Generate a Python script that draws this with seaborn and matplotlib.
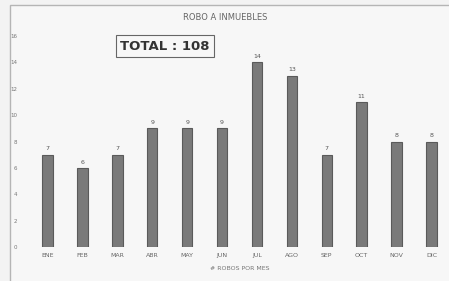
import numpy as np
import pandas as pd
import matplotlib
matplotlib.use("Agg")
import matplotlib.pyplot as plt
import seaborn as sns
from matplotlib.patches import Rectangle

# Data
meses = ["ENE", "FEB", "MAR", "ABR", "MAY", "JUN", "JUL", "AGO", "SEP", "OCT", "NOV", "DIC"]
robos = [7, 6, 7, 9, 9, 9, 14, 13, 7, 11, 8, 8]
y_ticks = [0, 2, 4, 6, 8, 10, 12, 14, 16]

df = pd.DataFrame({"mes": meses, "robos": robos})

sns.set_theme(style="white")
plt.rcParams['font.family'] = ['DejaVu Sans']

fig = plt.figure(figsize=(4.49, 2.81), dpi=100)
fig.patch.set_facecolor("#f3f3f3")

# outer chart frame (behind the axes)
fig.patches.append(Rectangle((10 / 449, -0.05), 1.0, 1 - 5 / 281 + 0.05,
                             transform=fig.transFigure, fill=True, zorder=-10,
                             facecolor="#f7f7f7", edgecolor="#b5b5b5", lw=1.0))

ax = fig.add_axes([30 / 449, 1 - 247 / 281, 1 - 30 / 449, (247 - 36) / 281])
ax.set_facecolor("none")
ax.set_zorder(5)

sns.barplot(data=df, x="mes", y="robos", ax=ax, color="#7a7a7a",
            width=0.3, edgecolor="#5a5a5a", linewidth=0.8, saturation=1)

for i, v in enumerate(robos):
    ax.text(i, v + 0.25, str(v), ha="center", va="bottom", fontsize=4.5, color="#555555")

ax.set_ylim(0, 16)
ax.set_yticks(y_ticks)
ax.set_yticklabels([str(t) for t in y_ticks], fontsize=4, color="#777777")
ax.tick_params(axis="y", length=0, pad=9)
ax.tick_params(axis="x", length=0, pad=4, labelsize=4.5, labelcolor="#666666")
ax.set_xlim(-0.5, 11.5)
for s in ax.spines.values():
    s.set_visible(False)
ax.set_ylabel("")
ax.set_xlabel("# ROBOS POR MES", fontsize=4.5, color="#777777", labelpad=6)

fig.text(225 / 449, 1 - 17 / 281, "ROBO A INMUEBLES", ha="center", va="center",
         fontsize=6, color="#666666")

fig.text(165 / 449, 1 - 46 / 281, "TOTAL : 108", ha="center", va="center",
         fontsize=9.5, fontweight="bold", color="#333333", zorder=6,
         bbox=dict(boxstyle="square,pad=0.35", facecolor="#f7f7f7", edgecolor="#666666", lw=0.8))

fig.savefig("out.png", dpi=100, facecolor=fig.get_facecolor())
